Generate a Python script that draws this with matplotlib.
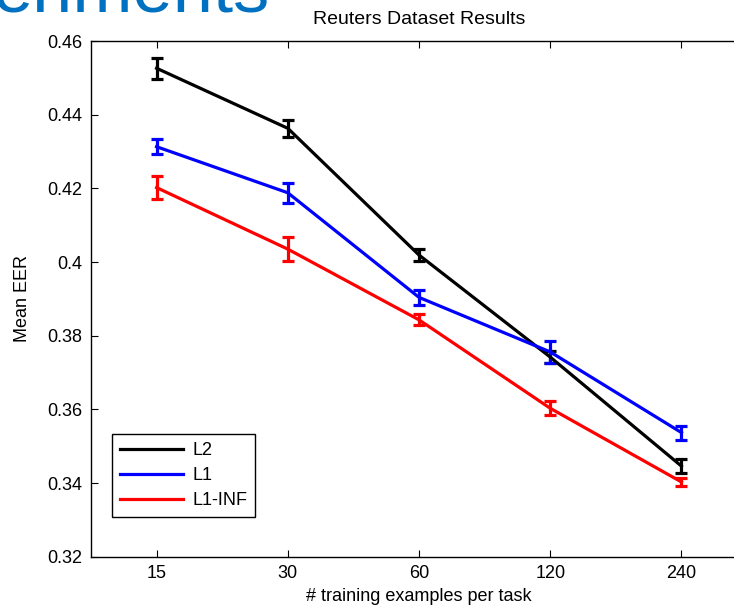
import matplotlib
matplotlib.use("Agg")
import matplotlib.pyplot as plt
from matplotlib.lines import Line2D

plt.rcParams['font.family'] = ['Liberation Sans', 'DejaVu Sans']

x_labels = ['15', '30', '60', '120', '240']
l2 = [0.4526, 0.4363, 0.4019, 0.3742, 0.3446]
l2_err = [0.0028, 0.0023, 0.0017, 0.0017, 0.0019]
l1 = [0.4313, 0.4188, 0.3904, 0.3756, 0.3537]
l1_err = [0.0021, 0.0027, 0.0020, 0.0030, 0.0019]
linf = [0.4202, 0.4035, 0.3843, 0.3603, 0.3403]
linf_err = [0.0031, 0.0033, 0.0015, 0.0019, 0.0010]

W, H = 734, 610
FS = 13
fig = plt.figure(figsize=(W/100, H/100), dpi=100)
ax = fig.add_axes([91/W, (H-556.7)/H, 656/W, 515.7/H])

xs = list(range(1, len(x_labels)+1))
series = [(l2, l2_err, 'black', 'L2'), (l1, l1_err, 'blue', 'L1'), (linf, linf_err, 'red', 'L1-INF')]
handles = []
for y, e, c, lab in series:
    ax.errorbar(xs, y, yerr=e, color=c, lw=2.3, capsize=4.6, capthick=2.3, elinewidth=2.3)
    handles.append(Line2D([], [], color=c, lw=2.3, label=lab))

ax.set_xlim(0.5, 5.5)
ax.set_ylim(0.32, 0.46)
ax.set_xticks(xs)
ax.set_xticklabels(x_labels)
ax.set_yticks([0.32, 0.34, 0.36, 0.38, 0.40, 0.42, 0.44, 0.46])
ax.set_yticklabels(['0.32', '0.34', '0.36', '0.38', '0.4', '0.42', '0.44', '0.46'])
ax.tick_params(direction='in', length=5, width=0.8, labelsize=FS, top=True, right=True, pad=6)
for s in ax.spines.values():
    s.set_linewidth(1.0)

ax.set_title('Reuters Dataset Results', fontsize=14, pad=12)
ax.set_xlabel('# training examples per task', fontsize=FS, labelpad=4)
ax.set_ylabel('Mean EER', fontsize=FS, labelpad=12)

leg = ax.legend(handles=handles, loc='lower left', bbox_to_anchor=(111.7/W, (H-517.3)/H),
                bbox_transform=fig.transFigure, fancybox=False, edgecolor='black', fontsize=FS,
                handlelength=3.5, labelspacing=0.45, borderaxespad=0, framealpha=1,
                borderpad=0.45, handletextpad=0.5)
leg.get_frame().set_linewidth(1.0)

fig.text(270/W, (H-11)/H, 'eriments', color='#0070C0', fontsize=52, ha='right', va='baseline')

fig.savefig('out.png', dpi=100)
